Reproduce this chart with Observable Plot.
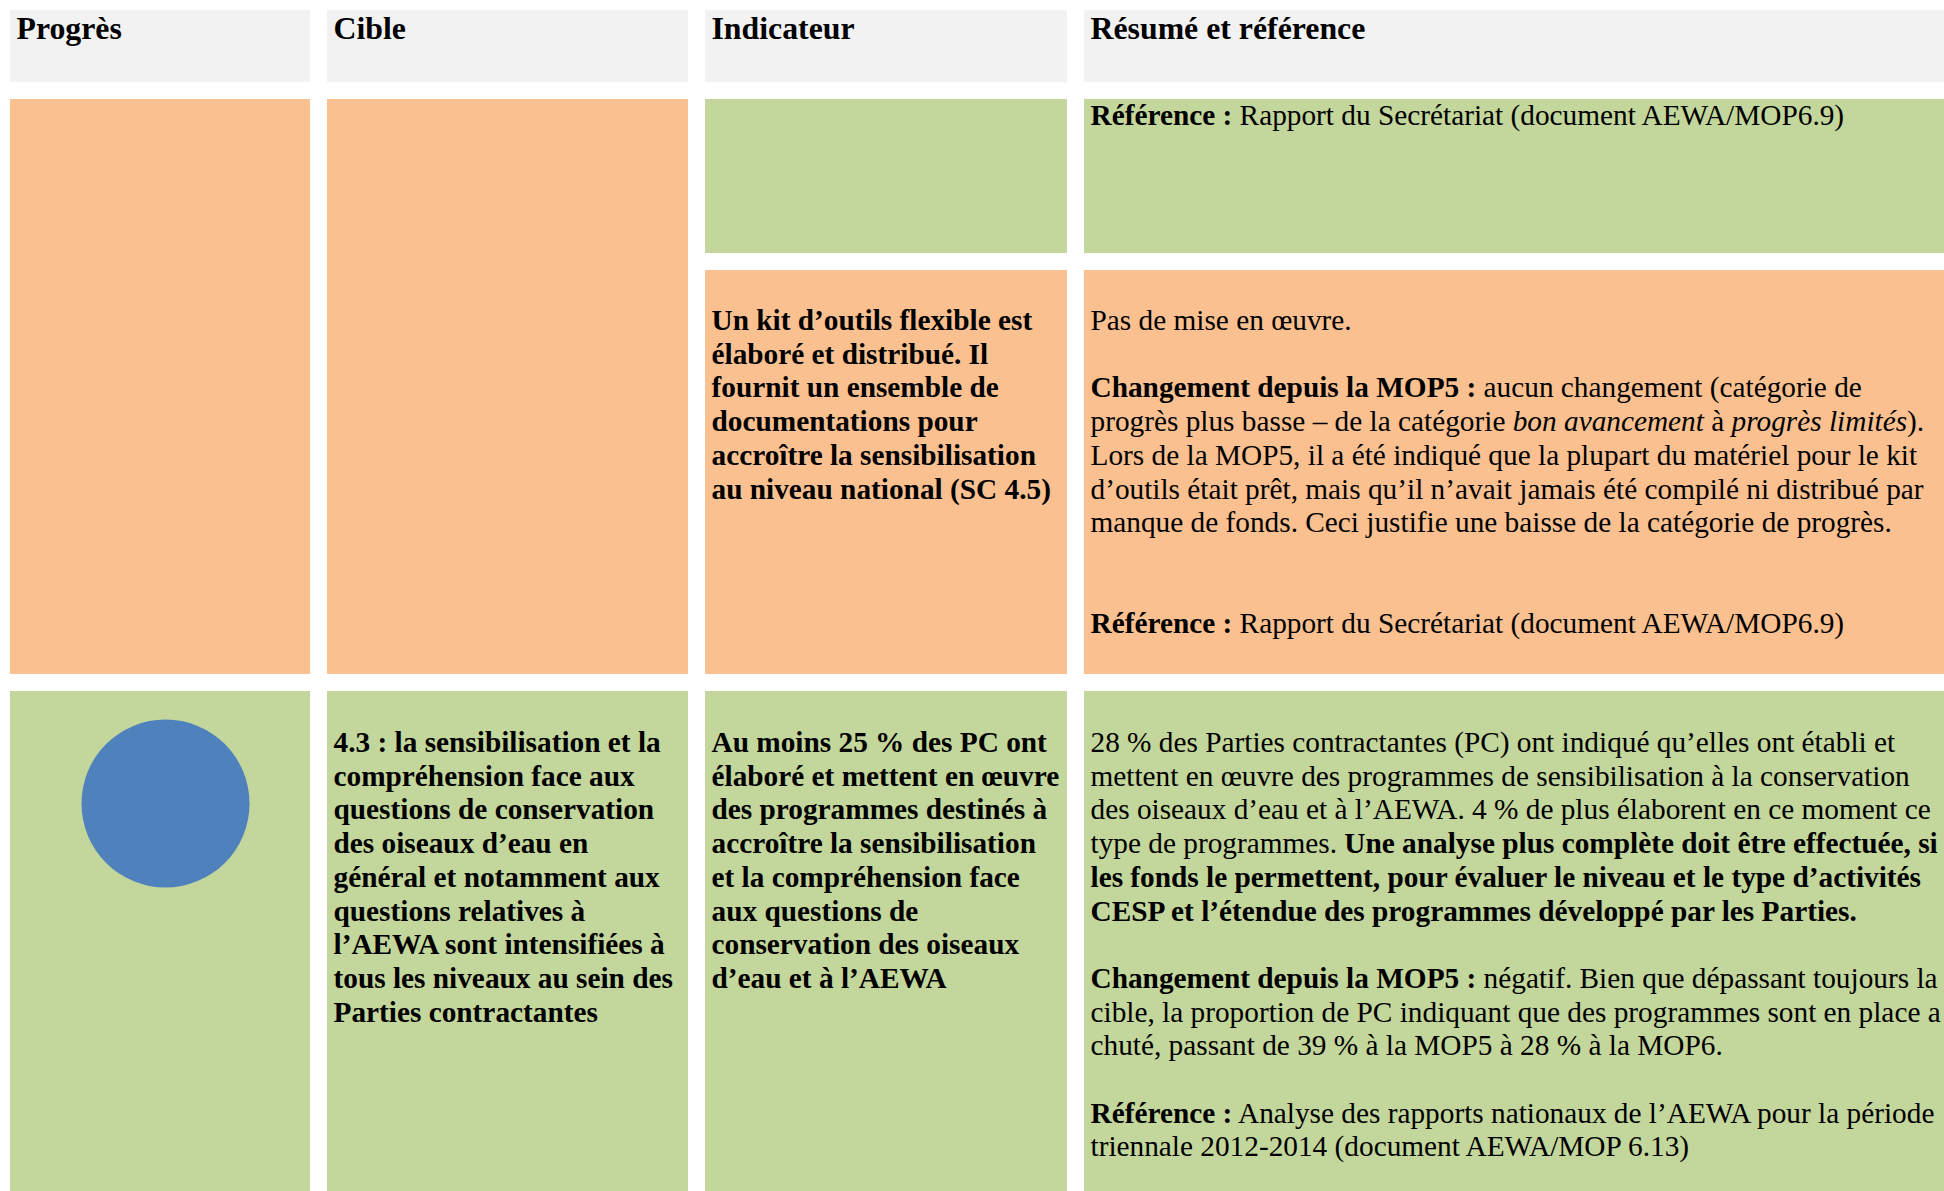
<!DOCTYPE html>
<html>
<head>
<meta charset="utf-8">
<script src="https://cdn.jsdelivr.net/npm/d3@7"></script>
<script src="https://cdn.jsdelivr.net/npm/@observablehq/plot@0.6"></script>
<style>
  html, body { margin: 0; padding: 0; background: #fff; overflow: hidden; }
  svg { display: block; }
</style>
</head>
<body>
<div id="chart"></div>
<script>
// ---------- DATA ----------
const columns = ["Progrès", "Cible", "Indicateur", "Résumé et référence"];
const categories = ["en-tête", "bon avancement", "progrès limités"];

// table cells: column, row band, progress category
const cells = [
  {col: "Progrès", row: "header", category: "en-tête"},
  {col: "Cible", row: "header", category: "en-tête"},
  {col: "Indicateur", row: "header", category: "en-tête"},
  {col: "Résumé et référence", row: "header", category: "en-tête"},
  {col: "Progrès", row: "r1", category: "progrès limités"},
  {col: "Cible", row: "r1", category: "progrès limités"},
  {col: "Indicateur", row: "r1a", category: "bon avancement"},
  {col: "Résumé et référence", row: "r1a", category: "bon avancement"},
  {col: "Indicateur", row: "r1b", category: "progrès limités"},
  {col: "Résumé et référence", row: "r1b", category: "progrès limités"},
  {col: "Progrès", row: "r2", category: "bon avancement"},
  {col: "Cible", row: "r2", category: "bon avancement"},
  {col: "Indicateur", row: "r2", category: "bon avancement"},
  {col: "Résumé et référence", row: "r2", category: "bon avancement"}
];

// progress symbol(s)
const progressSymbols = [{col: "Progrès", row: "r2", category: "bon avancement"}];

// cell texts (** = gras, ~ = italique)
const textR1aResume = [
  "**Référence :** Rapport du Secrétariat (document AEWA/MOP6.9)"
];
const textR1bIndicateur = [
  "Un kit d’outils flexible est",
  "élaboré et distribué. Il",
  "fournit un ensemble de",
  "documentations pour",
  "accroître la sensibilisation",
  "au niveau national (SC 4.5)"
];
const textR1bResume = [
  "Pas de mise en œuvre.",
  "",
  "**Changement depuis la MOP5 :** aucun changement (catégorie de",
  "progrès plus basse – de la catégorie ~bon avancement~ à ~progrès limités~).",
  "Lors de la MOP5, il a été indiqué que la plupart du matériel pour le kit",
  "d’outils était prêt, mais qu’il n’avait jamais été compilé ni distribué par",
  "manque de fonds. Ceci justifie une baisse de la catégorie de progrès.",
  "",
  "",
  "**Référence :** Rapport du Secrétariat (document AEWA/MOP6.9)"
];
const textR2Cible = [
  "4.3 : la sensibilisation et la",
  "compréhension face aux",
  "questions de conservation",
  "des oiseaux d’eau en",
  "général et notamment aux",
  "questions relatives à",
  "l’AEWA sont intensifiées à",
  "tous les niveaux au sein des",
  "Parties contractantes"
];
const textR2Indicateur = [
  "Au moins 25 % des PC ont",
  "élaboré et mettent en œuvre",
  "des programmes destinés à",
  "accroître la sensibilisation",
  "et la compréhension face",
  "aux questions de",
  "conservation des oiseaux",
  "d’eau et à l’AEWA"
];
const textR2Resume = [
  "28 % des Parties contractantes (PC) ont indiqué qu’elles ont établi et",
  "mettent en œuvre des programmes de sensibilisation à la conservation",
  "des oiseaux d’eau et à l’AEWA. 4 % de plus élaborent en ce moment ce",
  "type de programmes. **Une analyse plus complète doit être effectuée, si**",
  "**les fonds le permettent, pour évaluer le niveau et le type d’activités**",
  "**CESP et l’étendue des programmes développé par les Parties.**",
  "",
  "**Changement depuis la MOP5 :** négatif. Bien que dépassant toujours la",
  "cible, la proportion de PC indiquant que des programmes sont en place a",
  "chuté, passant de 39 % à la MOP5 à 28 % à la MOP6.",
  "",
  "**Référence :** Analyse des rapports nationaux de l’AEWA pour la période",
  "triennale 2012-2014 (document AEWA/MOP 6.13)"
];

const cellTexts = [
  {col: "Résumé et référence", row: "r1a", bold: false, lines: textR1aResume},
  {col: "Indicateur", row: "r1b", bold: true, lines: textR1bIndicateur},
  {col: "Résumé et référence", row: "r1b", bold: false, lines: textR1bResume},
  {col: "Cible", row: "r2", bold: true, lines: textR2Cible},
  {col: "Indicateur", row: "r2", bold: true, lines: textR2Indicateur},
  {col: "Résumé et référence", row: "r2", bold: false, lines: textR2Resume}
];

// ---------- LAYOUT (table geometry, px) ----------
const W = 1944, H = 1191;
const colEdges = {
  "Progrès": [10, 310],
  "Cible": [327, 688],
  "Indicateur": [705, 1067],
  "Résumé et référence": [1084, W]
};
const rowEdges = {
  header: [10, 82],
  r1: [99, 674],
  r1a: [99, 253],
  r1b: [270, 674],
  r2: [691, H]
};
const firstBaseline = {header: 28.5, r1a: 25.5, r1b: 59.5, r2: 60.5};
const padLeft = 6;
const bodySize = 29.3, headSize = 31.8, lineStep = 33.7;
const symbolOffset = {dx: 155, dy: 112, r: 84};
const font = "'Liberation Serif', 'Times New Roman', Times, serif";

// ---------- derived tables ----------
const headerLabels = columns.map(c => ({col: c, row: "header", text: c}));
const bodyLines = cellTexts.flatMap(c =>
  c.lines.map((t, i) => ({col: c.col, row: c.row, i, text: c.bold ? `**${t}**` : t}))
).filter(d => d.text !== "" && d.text !== "****");

const chart = Plot.plot({
  width: W,
  height: H,
  margin: 0,
  x: {domain: [0, W], range: [0, W], axis: null},
  y: {domain: [0, H], range: [0, H], axis: null},
  color: {domain: categories, range: ["#F2F2F2", "#C3D69B", "#FAC090"]},
  style: {background: "#ffffff", fontFamily: font},
  marks: [
    Plot.rect(cells, {
      x1: d => colEdges[d.col][0],
      x2: d => colEdges[d.col][1],
      y1: d => rowEdges[d.row][0],
      y2: d => rowEdges[d.row][1],
      fill: "category"
    }),
    Plot.dot(progressSymbols, {
      x: d => colEdges[d.col][0] + symbolOffset.dx,
      y: d => rowEdges[d.row][0] + symbolOffset.dy,
      r: symbolOffset.r,
      fill: "#4F81BD",
      stroke: "none"
    }),
    Plot.text(headerLabels, {
      x: d => colEdges[d.col][0] + padLeft,
      y: d => rowEdges[d.row][0] + firstBaseline.header,
      text: "text",
      textAnchor: "start",
      lineAnchor: "bottom",
      fontSize: headSize,
      fontWeight: "bold",
      fontFamily: font,
      fill: "#000"
    }),
    Plot.text(bodyLines, {
      x: d => colEdges[d.col][0] + padLeft,
      y: d => rowEdges[d.row][0] + firstBaseline[d.row] + d.i * lineStep,
      text: "text",
      textAnchor: "start",
      lineAnchor: "bottom",
      fontSize: bodySize,
      fontFamily: font,
      fill: "#000"
    })
  ]
});

// rich text: ** bold, ~ italic
const NS = "http://www.w3.org/2000/svg";
chart.querySelectorAll("text").forEach(t => {
  const s = t.textContent;
  if (!/\*\*|~/.test(s)) return;
  let bold = false, italic = false;
  while (t.firstChild) t.removeChild(t.firstChild);
  s.split(/(\*\*|~)/).forEach(tok => {
    if (tok === "**") { bold = !bold; return; }
    if (tok === "~") { italic = !italic; return; }
    if (!tok) return;
    const span = document.createElementNS(NS, "tspan");
    if (bold) span.setAttribute("font-weight", "bold");
    if (italic) span.setAttribute("font-style", "italic");
    span.textContent = tok;
    t.appendChild(span);
  });
  t.setAttribute("xml:space", "preserve");
  t.style.whiteSpace = "pre";
});

document.getElementById("chart").appendChild(chart);
</script>
</body>
</html>
